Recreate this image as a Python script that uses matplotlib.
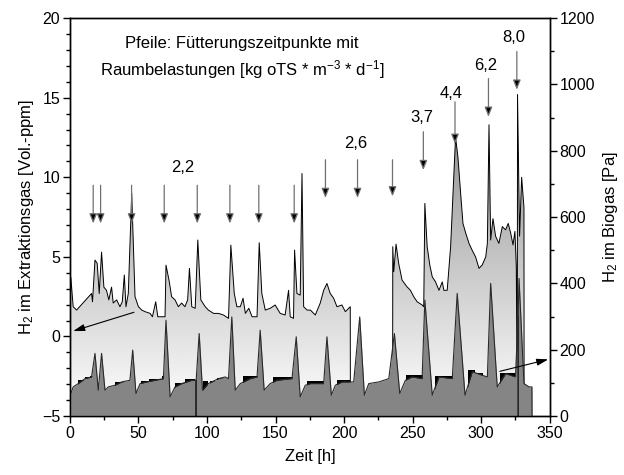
import numpy as np
import matplotlib
matplotlib.use("Agg")
import matplotlib.pyplot as plt
from matplotlib.ticker import MultipleLocator

plt.rcParams['font.family'] = ['Liberation Sans', 'DejaVu Sans']
plt.rcParams['mathtext.fontset'] = 'custom'
plt.rcParams['mathtext.rm'] = 'Liberation Sans'
plt.rcParams['mathtext.default'] = 'regular'
plt.rcParams['font.size'] = 11.5

# -------------------------------------------------
# H2 in extraction gas [Vol.-ppm], left axis (two measuring blocks)
# -------------------------------------------------
up1_t = [0.0, 0.7, 2.4, 4.9, 15.8, 16.5, 18.3, 19.9, 21.4, 23.1, 24.8, 26.7, 28.4, 30.4,
         31.6, 34.1, 36.5, 38.2, 39.7, 40.9, 42.6, 45.1, 47.5, 50.0, 52.4, 54.8, 58.5, 60.2,
         62.6, 64.1, 69.4, 70.1, 72.3, 74.2, 76.7, 79.1, 81.5, 83.9, 85.9, 87.2, 88.9, 91.4,
         93.3, 95.5, 98.7, 101.0, 104.8, 108.4, 112.0, 115.7, 117.4, 119.9, 121.8, 124.3,
         126.3, 128.0, 130.5, 132.9, 136.5, 138.1, 140.0, 142.5, 146.1, 149.7, 153.4, 157.0,
         159.5, 160.7, 163.1, 163.9, 165.6, 168.0, 169.3, 170.5, 173.0, 175.4, 179.0, 182.6,
         185.1, 187.5, 189.9, 192.4, 194.8, 198.4, 200.9, 204.5, 204.6]
up1_v = [1.0, 3.7, 1.87, 1.66, 2.7, 2.18, 4.8, 4.6, 2.7, 5.3, 3.1, 2.9, 2.3, 3.1,
         2.1, 2.3, 1.87, 2.18, 3.86, 1.87, 2.7, 9.0, 2.5, 1.87, 1.66, 1.56, 1.45, 1.24,
         2.18, 1.24, 1.24, 4.48, 3.54, 2.5, 2.3, 1.87, 2.1, 1.87, 2.3, 4.28, 1.87, 1.77,
         6.06, 2.3, 1.87, 1.66, 1.45, 1.45, 1.35, 1.14, 5.74, 2.7, 1.87, 1.87,
         2.4, 1.45, 1.77, 1.24, 1.24, 5.89, 2.7, 1.66, 1.77, 1.98, 1.45, 1.35,
         2.9, 1.24, 1.14, 5.43, 2.7, 2.6, 10.24, 1.87, 1.66, 1.66, 1.35, 2.1,
         2.9, 3.33, 2.7, 2.4, 1.87, 1.98, 1.56, 1.87, -5.0]

up2_t = [235.4, 235.5, 236.2, 237.9, 239.8, 242.3, 245.9, 248.4, 250.8, 253.3, 256.9, 258.1,
         258.9, 260.6, 262.5, 264.3, 266.7, 269.2, 271.6, 272.8, 275.2, 277.7, 280.1, 281.3,
         283.0, 285.0, 286.7, 288.7, 291.1, 293.5, 295.9, 298.4, 300.8, 303.3, 304.5, 305.7,
         306.9, 308.6, 310.5, 312.9, 315.4, 317.8, 319.7, 321.5, 323.2, 324.6, 325.6, 326.3,
         326.5, 328.0, 329.5, 331.2, 331.3]
up2_v = [-5.0, 5.64, 4.07, 5.8, 4.6, 3.54, 3.12, 2.9, 2.5, 2.18, 1.98, 1.87,
         8.36, 5.64, 4.5, 3.75, 3.43, 2.9, 3.43, 2.9, 2.9, 5.64, 10.24, 12.5,
         11.3, 9.0, 7.1, 6.5, 5.85, 5.4, 5.0, 4.28, 4.5, 5.0, 5.85, 13.3,
         6.06, 7.4, 6.3, 5.85, 6.9, 6.7, 7.1, 6.5, 5.75, 6.6, 4.38, -5.0,
         15.2, 6.3, 10.0, 8.1, -5.0]

# -------------------------------------------------
# H2 in biogas [Pa], right axis
# -------------------------------------------------
lo_t = [0.0, 0.7, 2.4, 6.1, 11.0, 15.8, 18.3, 20.7, 23.1, 25.6, 28.0, 32.9, 37.7, 43.8,
        45.8, 48.2, 51.2, 56.0, 62.1, 68.2, 70.1, 73.1, 76.7, 81.5, 88.9, 92.0, 92.05, 92.1,
        94.3, 96.7, 101.0, 108.4, 113.3, 115.7, 118.1, 120.6, 124.3, 131.6, 136.5, 138.8,
        141.7, 146.1, 151.0, 162.0, 165.1, 168.0, 171.7, 175.4, 185.1, 187.5, 190.7, 193.6,
        198.4, 207.0, 211.4, 214.8, 218.0, 225.3, 232.6, 236.7, 240.6, 244.7, 249.6, 256.9,
        258.9, 264.3, 269.2, 278.9, 282.5, 288.2, 293.5, 300.8, 304.5, 306.9, 311.7, 317.8,
        325.0, 326.9, 327.0, 327.1, 327.6, 331.2, 334.9, 337.0, 337.1]
lo_v = [60, 68, 88, 98, 113, 118, 189, 78, 189, 78, 88, 93, 103, 108,
        199, 68, 98, 103, 108, 113, 289, 58, 88, 98, 108, 108, 0, 108,
        249, 78, 98, 113, 118, 113, 299, 78, 98, 113, 118, 259,
        78, 98, 108, 113, 239, 58, 93, 98, 98, 239, 63, 93,
        103, 103, 299, 63, 98, 103, 113, 249, 68, 108, 118, 113,
        350, 63, 118, 113, 370, 63, 134, 123, 118, 400, 88, 128,
        118, 300, 0, 330, 415, 98, 88, 88, 0]

# quantised (stepped) biogas reading, shows as black band on the flat parts
step_start = [6, 11, 14.6, 33, 52, 58, 67, 76.5, 84, 97, 102, 107, 126.4, 148, 173, 194.5,
              245.5, 266, 290.5, 295.3, 313.6]
step_end = [11, 14.6, 17.5, 44.5, 58, 67, 69.5, 84, 91.5, 101, 107, 113, 137.3, 163, 185, 204,
            257.6, 280.7, 295.3, 301, 324.5]
step_level = [108, 117, 122, 103, 105, 112, 120, 100, 112, 105, 106, 116, 120, 119, 105, 110,
              124, 120, 140, 131, 129]

# feeding arrows (time, start, tip in ppm) and organic loading rates
arrow_t = [17.0, 22.4, 45.0, 68.8, 92.9, 116.7, 137.8, 163.6, 186.4, 209.8, 235.3,
           257.8, 280.9, 305.3, 326.0]
arrow_top = [9.5, 9.5, 9.5, 9.5, 9.5, 9.5, 9.5, 9.5, 11.1, 11.1, 11.1,
             12.86, 14.74, 16.2, 17.9]
arrow_tip = [7.1, 7.1, 7.1, 7.1, 7.1, 7.1, 7.1, 7.1, 8.7, 8.7, 8.8,
             10.45, 12.1, 13.8, 15.5]

load_labels = ["2,2", "2,6", "3,7", "4,4", "6,2", "8,0"]
load_t = [82.4, 208.3, 256.4, 278.3, 303.1, 324.0]
load_y = [10.62, 12.13, 13.76, 15.27, 17.05, 18.8]


fig = plt.figure(figsize=(6.24, 4.75), dpi=100)
ax = fig.add_axes([0.112, 0.124, 0.769, 0.838])
ax2 = ax.twinx()

# gradient filled upper curve
grad_y = np.linspace(-5, 20, 256)
grad = np.clip(0.98 - 0.0235 * (grad_y + 4), 0, 1)[:, None]
for t, v in [(up1_t, up1_v), (up2_t, up2_v)]:
    poly = ax.fill_between(t, v, -5, facecolor='none', edgecolor='none')
    img = ax.imshow(grad, extent=[0, 350, -5, 20], aspect='auto', origin='lower',
                    cmap='gray', vmin=0, vmax=1, zorder=1)
    img.set_clip_path(poly.get_paths()[0], transform=ax.transData)
    ax.plot(t, v, color='black', lw=0.7, zorder=2)

# lower curve
for s, e, lvl in zip(step_start, step_end, step_level):
    ax2.fill_between([s, e], [lvl, lvl], 0, color='black', lw=0, zorder=0.5)
ax2.fill_between(lo_t, lo_v, 0, color='#858585', lw=0, zorder=1)
ax2.plot(lo_t, lo_v, color='#2a2a2a', lw=0.8, zorder=2)

# feeding arrows
for t, top, tip in zip(arrow_t, arrow_top, arrow_tip):
    ax.annotate('', xy=(t, tip), xytext=(t, top),
                arrowprops=dict(arrowstyle='-|>,head_width=0.2,head_length=0.5',
                                edgecolor='#707070', facecolor='black', lw=0.9,
                                shrinkA=0, shrinkB=0), zorder=5)

for lab, t, y in zip(load_labels, load_t, load_y):
    ax.text(t, y, lab, ha='center', va='center', fontsize=12, zorder=5)

ax.text(125.4, 18.4, "Pfeile: Fütterungszeitpunkte mit", ha='center', va='center',
        fontsize=12)
ax.text(125.4, 16.75, "Raumbelastungen [kg oTS * m$^{-3}$ * d$^{-1}$]",
        ha='center', va='center', fontsize=12)

# axis pointers
ax.annotate('', xy=(2.4, 0.34), xytext=(46.7, 1.52),
            arrowprops=dict(arrowstyle='-|>,head_width=0.18,head_length=0.6',
                            color='black', lw=0.8, shrinkA=0, shrinkB=0), zorder=5)
ax2.annotate('', xy=(348.9, 171), xytext=(313.6, 135),
             arrowprops=dict(arrowstyle='-|>,head_width=0.18,head_length=0.6',
                             color='black', lw=0.8, shrinkA=0, shrinkB=0), zorder=5)

ax.set_xlim(0, 350)
ax.set_ylim(-5, 20)
ax2.set_ylim(0, 1200)

ax.xaxis.set_major_locator(MultipleLocator(50))
ax.xaxis.set_minor_locator(MultipleLocator(25))
ax.yaxis.set_major_locator(MultipleLocator(5))
ax.yaxis.set_minor_locator(MultipleLocator(1))
ax2.yaxis.set_major_locator(MultipleLocator(200))
ax2.yaxis.set_minor_locator(MultipleLocator(100))

for a in (ax, ax2):
    a.tick_params(which='major', direction='out', length=5, width=1, pad=2)
    a.tick_params(which='minor', direction='out', length=3, width=1)
    for s in a.spines.values():
        s.set_linewidth(1)

ax.set_xlabel("Zeit [h]", fontsize=12, labelpad=6)
ax.set_ylabel("H$_2$ im Extraktionsgas [Vol.-ppm]", fontsize=12, labelpad=4)
ax2.set_ylabel("H$_2$ im Biogas [Pa]", fontsize=12, labelpad=4)

fig.savefig("out.png", dpi=100)
